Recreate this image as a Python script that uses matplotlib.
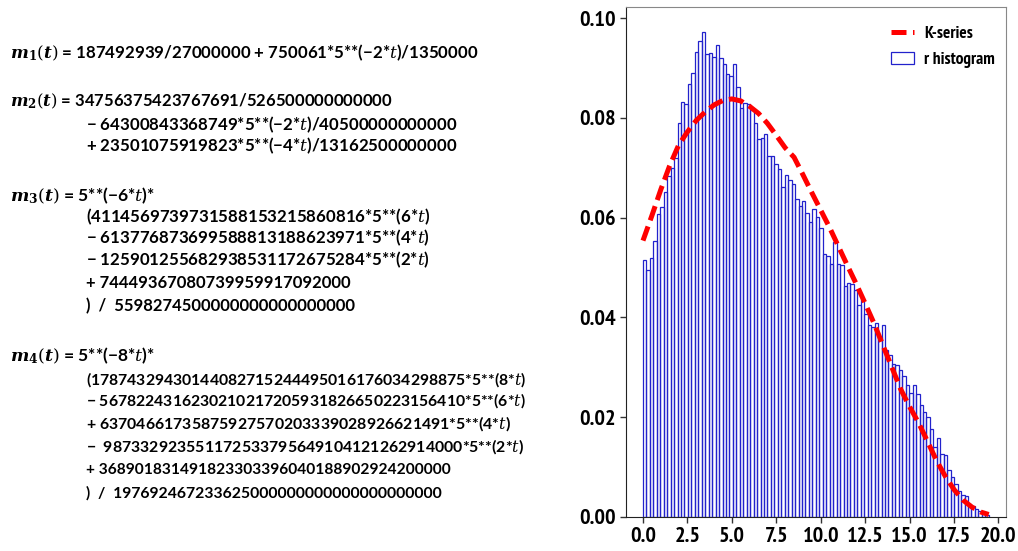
import numpy as np
import matplotlib
matplotlib.use("Agg")
import matplotlib.pyplot as plt
from matplotlib import font_manager as fm

# ---------------- data ----------------
hist_heights = [
    0.0515, 0.0495, 0.0519, 0.0554, 0.0607, 0.0621, 0.0651, 0.0684, 0.0700, 0.0720,
    0.0789, 0.0832, 0.0827, 0.0867, 0.0889, 0.0933, 0.0954, 0.0973, 0.0929, 0.0930,
    0.0922, 0.0947, 0.0920, 0.0907, 0.0887, 0.0883, 0.0907, 0.0862, 0.0819, 0.0830,
    0.0827, 0.0815, 0.0790, 0.0757, 0.0760, 0.0767, 0.0723, 0.0723, 0.0708, 0.0697,
    0.0662, 0.0685, 0.0675, 0.0667, 0.0637, 0.0624, 0.0633, 0.0609, 0.0591, 0.0617,
    0.0601, 0.0580, 0.0527, 0.0524, 0.0507, 0.0551, 0.0507, 0.0505, 0.0464, 0.0469,
    0.0467, 0.0454, 0.0424, 0.0437, 0.0407, 0.0384, 0.0380, 0.0389, 0.0360, 0.0384,
    0.0334, 0.0324, 0.0307, 0.0304, 0.0294, 0.0282, 0.0264, 0.0249, 0.0264, 0.0247,
    0.0224, 0.0211, 0.0200, 0.0177, 0.0141, 0.0159, 0.0126, 0.0125, 0.0094, 0.0081,
    0.0066, 0.0053, 0.0045, 0.0043, 0.0026, 0.0022, 0.0017, 0.0013, 0.0009, 0.0004,
]
bin_lo = 0.0
bin_hi = 19.45

kseries_x = [0.0, 0.5, 1.0, 1.5, 2.0, 2.5, 3.0, 3.5, 4.0, 4.5, 5.0, 5.5, 6.0, 6.5,
             7.0, 7.5, 8.0, 8.5, 9.0, 9.5, 10.0, 10.5, 11.0, 11.5, 12.0, 12.5,
             13.0, 13.5, 14.0, 14.5, 15.0, 15.5, 16.0, 16.5, 17.0, 17.5, 18.0,
             18.5, 19.0, 19.45]
kseries_y = [0.0554, 0.0604, 0.0656, 0.0704, 0.0745, 0.0772, 0.0795, 0.0812,
             0.0826, 0.0835, 0.0838, 0.0834, 0.0823, 0.0809, 0.0789, 0.0765,
             0.0740, 0.0721, 0.0686, 0.0650, 0.0615, 0.0580, 0.0542, 0.0504,
             0.0467, 0.0428, 0.0388, 0.0344, 0.0300, 0.0256, 0.0221, 0.0189,
             0.0152, 0.0114, 0.0082, 0.0055, 0.0034, 0.0020, 0.0010, 0.0005]

x_ticks = [0.0, 2.5, 5.0, 7.5, 10.0, 12.5, 15.0, 17.5, 20.0]
y_ticks = [0.00, 0.02, 0.04, 0.06, 0.08, 0.10]

legend_labels = ["K-series", "r histogram"]

T = "$\\mathit{t}$"
M = "\u2212"
eq_lines = [
    ("1", " = 187492939/27000000 + 750061*5**(" + M + "2*" + T + ")/1350000"),
    ("2", " = 34756375423767691/526500000000000"),
    (None, M + " 64300843368749*5**(" + M + "2*" + T + ")/40500000000000"),
    (None, "+ 23501075919823*5**(" + M + "4*" + T + ")/13162500000000"),
    ("3", " = 5**(" + M + "6*" + T + ")*"),
    (None, "(4114569739731588153215860816*5**(6*" + T + ")"),
    (None, M + " 613776873699588813188623971*5**(4*" + T + ")"),
    (None, M + " 125901255682938531172675284*5**(2*" + T + ")"),
    (None, "+ 74449367080739959917092000"),
    (None, ")  /  5598274500000000000000000"),
    ("4", " = 5**(" + M + "8*" + T + ")*"),
    (None, "(17874329430144082715244495016176034298875*5**(8*" + T + ")"),
    (None, M + " 5678224316230210217205931826650223156410*5**(6*" + T + ")"),
    (None, "+ 63704661735875927570203339028926621491*5**(4*" + T + ")"),
    (None, M + "  987332923551172533795649104121262914000*5**(2*" + T + ")"),
    (None, "+ 368901831491823303396040188902924200000"),
    (None, ")  /  197692467233625000000000000000000000"),
]
eq_y = [53, 101, 125, 146, 196, 217, 238, 260, 283, 306,
        356, 380, 401, 424, 447, 470, 493]
eq_right = [493, 397, 468, 468, 165, 443, 441, 441, 353, 361,
            165, 510, 510, 501, 508, 432, 430]

# ---------------- fonts ----------------
def find_narrow_bold():
    order = {'ultra-condensed': 1, 'extra-condensed': 0, 'condensed': 2, 'semi-condensed': 3}
    best = None
    for f in fm.fontManager.ttflist:
        w = f.weight if isinstance(f.weight, int) else fm.weight_dict.get(f.weight, 400)
        if f.style != 'normal' or w < 600 or w > 750:
            continue
        st = f.stretch
        if not isinstance(st, str):
            continue
        name = f.fname
        if 'Narrow' in name:
            rank = 1
        elif st in order:
            rank = order[st]
        else:
            continue
        key = (rank, 0 if 'Sans' in name else 1, name)
        if best is None or key < best[0]:
            best = (key, f)
    if best is not None:
        return fm.FontProperties(fname=best[1].fname), True
    return fm.FontProperties(family='DejaVu Sans', weight='bold'), False

narrow_fp, is_narrow = find_narrow_bold()

# ---------------- figure ----------------
W, H = 1018, 551
fig = plt.figure(figsize=(W / 100, H / 100), dpi=100)
plt.rcParams['mathtext.fontset'] = 'dejavuserif'

text_family = ['Lato', 'DejaVu Sans']
eq_size = 11.8

renderer = fig.canvas.get_renderer()
for (lab, txt), yp, xr in zip(eq_lines, eq_y, eq_right):
    yf = 1 - yp / H
    if lab is not None:
        s = r"$\mathbfit{m}_{\mathbf{%s}}(\mathbfit{t})$" % lab + txt
        x0 = 10
    else:
        s = txt
        x0 = 86
    t = fig.text(x0 / W, yf, s, ha='left', va='center', fontsize=eq_size,
                 fontweight='bold', family=text_family)
    wpx = t.get_window_extent(renderer).width
    new = eq_size * ((xr - x0) / wpx) ** 0.5
    t.set_fontsize(min(max(new, 11.2), 12.6))

ax_w = (1006 - 625.7) / W
ax = fig.add_axes([625.7 / W, 1 - 517 / H, ax_w, (517 - 7.3) / H])

edges = np.linspace(bin_lo, bin_hi, len(hist_heights) + 1)
centers = (edges[:-1] + edges[1:]) / 2
ax.plot(kseries_x, kseries_y, color='red', ls='--', lw=3.6, label=legend_labels[0],
        dashes=(3.0, 1.3))
ax.hist(centers, bins=edges, weights=hist_heights, histtype='bar', fill=False,
        edgecolor='#2222cc', linewidth=0.9, label=legend_labels[1])

ax.set_xticks(x_ticks)
ax.set_yticks(y_ticks)
ax.set_xticklabels([f"{v:.1f}" for v in x_ticks])
ax.set_yticklabels([f"{v:.2f}" for v in y_ticks])
tick_size = 16 if is_narrow else 12.5
for lbl in ax.get_xticklabels() + ax.get_yticklabels():
    lbl.set_fontproperties(narrow_fp)
    lbl.set_fontweight('bold')
    lbl.set_fontsize(tick_size)
xl = ax.get_xticklabels()
wmax = max(l.get_window_extent(renderer).width for l in xl)
if wmax > 40:
    for lbl in ax.get_xticklabels() + ax.get_yticklabels():
        lbl.set_fontsize(tick_size * 40 / wmax)
ax.tick_params(axis='both', length=4, width=1, color='#333333', pad=3)
ax.set_ylim(bottom=0)
for side in ['top', 'right']:
    ax.spines[side].set_color('#888888')
for side in ['left', 'bottom']:
    ax.spines[side].set_color('#222222')

leg_fp = narrow_fp.copy()
leg_fp.set_size(12.5 if is_narrow else 11)
leg_fp.set_weight('bold')
leg = ax.legend(loc='upper right', frameon=False, prop=leg_fp,
                handlelength=1.35, handletextpad=0.55, labelspacing=0.6,
                borderaxespad=0.65, bbox_to_anchor=(1.0 + 7 / 380.3, 1.0))

fig.savefig('out.png', dpi=100)
